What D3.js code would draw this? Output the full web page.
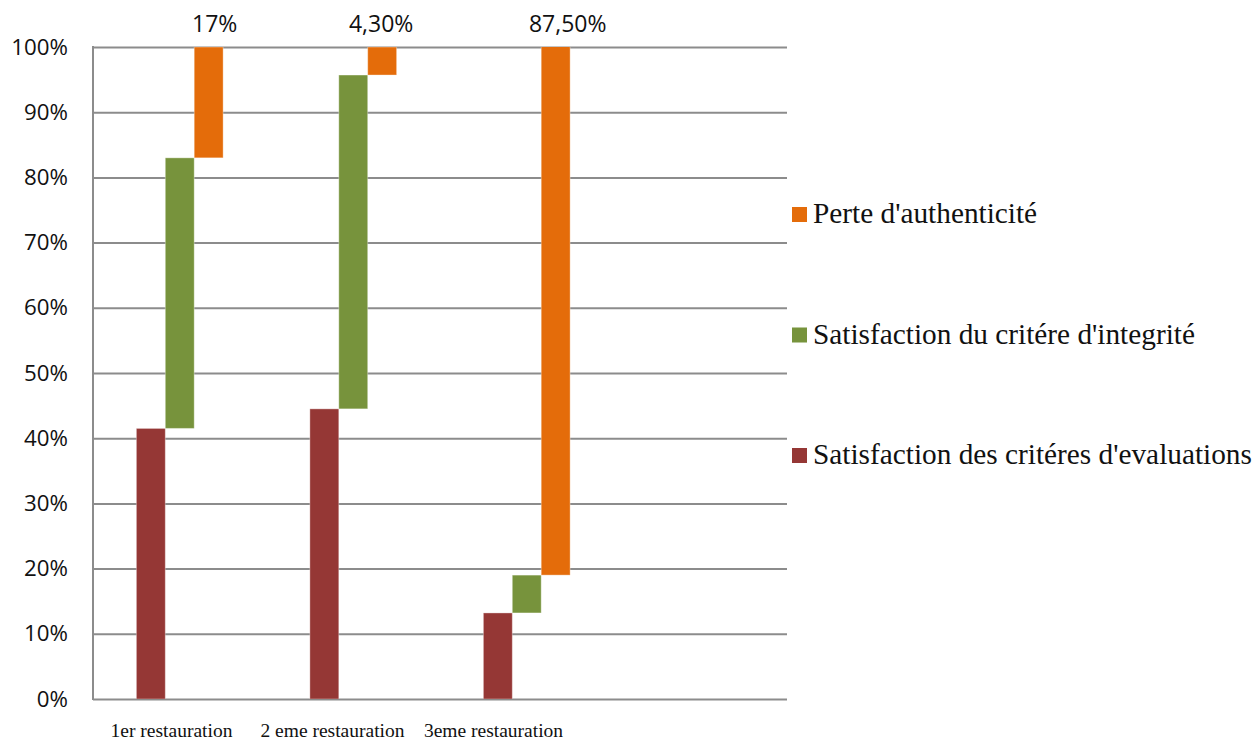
<!DOCTYPE html>
<html>
<head>
<meta charset="utf-8">
<script src="https://cdn.jsdelivr.net/npm/d3@7"></script>
<style>
  html, body { margin: 0; padding: 0; background: #ffffff; }
  svg { display: block; }
</style>
</head>
<body>
<svg id="chart" width="1254" height="740"></svg>
<script>
// Categories (the fourth slot is left empty on the axis)
const categories = ["1er restauration", "2 eme restauration", "3eme restauration", ""];

// Series values in percent, stacked in this order
const seriesNames = [
  "Satisfaction des critéres d'evaluations",
  "Satisfaction du critére d'integrité",
  "Perte d'authenticité"
];
const evaluations  = [41.5, 44.5, 13.2];
const integrity    = [41.5, 51.2, 5.8];
const authenticity = [17, 4.3, 87.5];

// Text shown above the last segment of each column
const valueLabels = ["17%", "4,30%", "87,50%"];

// Axis ticks
const yTicks = [0, 10, 20, 30, 40, 50, 60, 70, 80, 90, 100];

const colors = ["#953735", "#77933C", "#E46C0A"];

const svg = d3.select("#chart");
const plot = { left: 93, right: 787, top: 47, bottom: 699 };

const rows = categories.slice(0, 3).map((c, i) => ({
  category: c,
  s0: evaluations[i],
  s1: integrity[i],
  s2: authenticity[i]
}));
const stacked = d3.stack().keys(["s0", "s1", "s2"])(rows);

const x = d3.scaleBand().domain(categories).range([plot.left, plot.right]).paddingInner(0).paddingOuter(0);
const groupPad = x.bandwidth() / 4;
const xInner = d3.scaleBand().domain([0, 1, 2]).range([groupPad, x.bandwidth() - groupPad]);
const y = d3.scaleLinear().domain([0, 100]).range([plot.bottom, plot.top]);

// Clip region: segments that overshoot 100% are cut at the top of the plot
svg.append("defs").append("clipPath").attr("id", "plotClip")
  .append("rect")
  .attr("x", plot.left).attr("y", plot.top)
  .attr("width", plot.right - plot.left).attr("height", plot.bottom - plot.top);

// Gridlines
const yGrid = d3.axisLeft(y).tickValues(yTicks).tickSize(-(plot.right - plot.left)).tickFormat("");
svg.append("g")
  .attr("transform", `translate(${plot.left},0)`)
  .call(yGrid)
  .call(g => g.select(".domain").remove())
  .call(g => g.selectAll("line").attr("stroke", "#8c8c8c").attr("stroke-width", 2));

// Left axis line
svg.append("line")
  .attr("x1", plot.left).attr("x2", plot.left)
  .attr("y1", y(100) - 1).attr("y2", y(0) + 1)
  .attr("stroke", "#8c8c8c").attr("stroke-width", 2);

// Y tick labels
const yAxis = d3.axisLeft(y).tickValues(yTicks).tickSize(0).tickPadding(25).tickFormat(d => d + "%");
svg.append("g")
  .attr("transform", `translate(${plot.left},0)`)
  .call(yAxis)
  .call(g => g.select(".domain").remove())
  .call(g => g.selectAll("text")
    .attr("font-family", "'Open Sans', sans-serif")
    .attr("font-size", 22.3)
    .attr("fill", "#111"));

// Floating stacked segments
const bars = svg.append("g").attr("clip-path", "url(#plotClip)");
stacked.forEach((layer, si) => {
  bars.selectAll(null)
    .data(layer)
    .join("rect")
    .attr("x", d => x(d.data.category) + xInner(si))
    .attr("width", xInner.bandwidth())
    .attr("y", d => y(d[1]))
    .attr("height", d => y(d[0]) - y(d[1]))
    .attr("fill", colors[si])
    .attr("stroke", "rgba(255,255,255,0.35)")
    .attr("stroke-width", 1);
});

// Value labels above the authenticity segments
const labelNudge = [6, -1, 12];
svg.append("g").selectAll("text")
  .data(stacked[2])
  .join("text")
  .attr("x", (d, i) => x(d.data.category) + xInner(2) + xInner.bandwidth() / 2 + labelNudge[i])
  .attr("y", 32)
  .attr("text-anchor", "middle")
  .attr("font-family", "'Open Sans', sans-serif")
  .attr("font-size", 23)
  .attr("fill", "#111")
  .text((d, i) => valueLabels[i]);

// Category labels
const xLabels = d3.scaleBand().domain(categories).range([91, 735]);
svg.append("g").selectAll("text")
  .data(categories)
  .join("text")
  .attr("x", d => xLabels(d) + xLabels.bandwidth() / 2)
  .attr("y", 737)
  .attr("text-anchor", "middle")
  .attr("font-family", "'Liberation Serif', 'Times New Roman', serif")
  .attr("font-size", 19.5)
  .attr("fill", "#111")
  .text(d => d);

// Legend (top to bottom in reverse stack order)
const legendOrder = [2, 1, 0];
const legend = svg.append("g").attr("transform", "translate(792,0)");
const legendY = d3.scalePoint().domain(legendOrder).range([222, 463]);
legendOrder.forEach(si => {
  const g = legend.append("g").attr("transform", `translate(0,${legendY(si)})`);
  g.append("rect").attr("x", 0).attr("y", -15).attr("width", 15).attr("height", 15).attr("fill", colors[si]);
  g.append("text")
    .attr("x", 21).attr("y", 1)
    .attr("font-family", "'Liberation Serif', 'Times New Roman', serif")
    .attr("font-size", 29.3)
    .attr("fill", "#111")
    .text(seriesNames[si]);
});
</script>
</body>
</html>
